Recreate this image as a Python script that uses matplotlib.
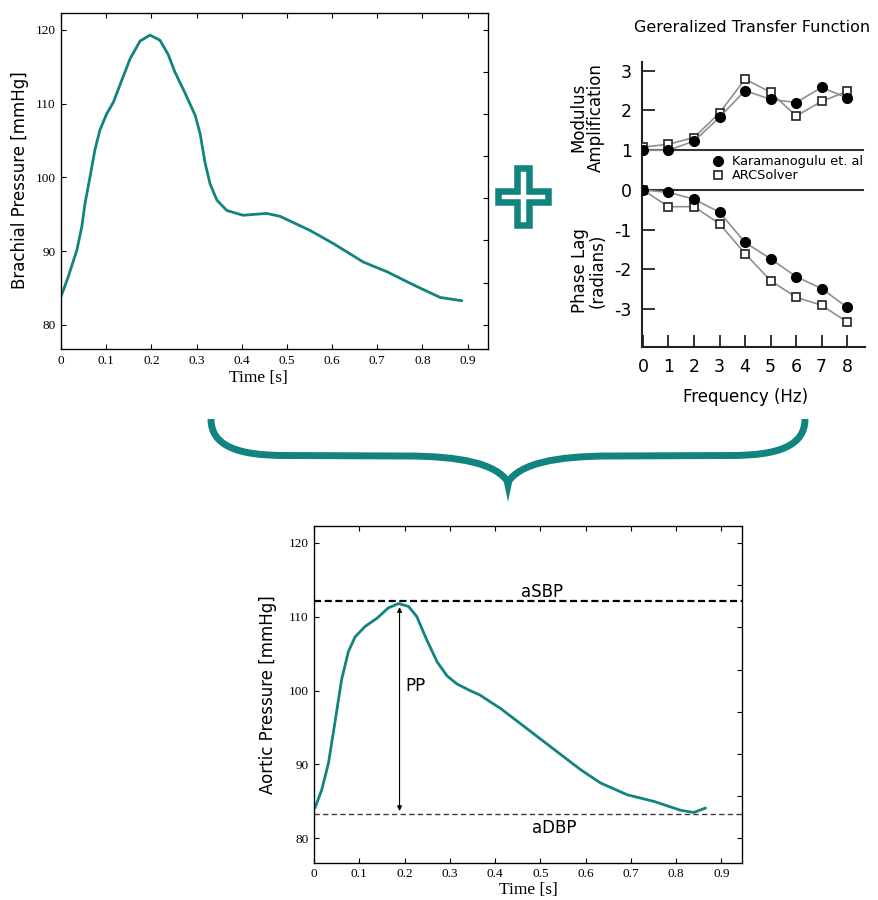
import matplotlib
matplotlib.use('Agg')
import matplotlib.pyplot as plt
import numpy as np
from matplotlib.path import Path
from matplotlib.patches import PathPatch, Polygon
from matplotlib.lines import Line2D

W, H = 879, 900
teal = '#11847f'

# brachial pressure waveform
t_brachial = [0.000, 0.016, 0.035, 0.046, 0.053, 0.064, 0.075, 0.086, 0.101, 0.116,
              0.134, 0.153, 0.175, 0.197, 0.219, 0.237, 0.252, 0.274, 0.297, 0.308,
              0.319, 0.330, 0.345, 0.367, 0.403, 0.455, 0.485, 0.551, 0.603, 0.669,
              0.721, 0.780, 0.839, 0.887]
p_brachial = [83.8, 86.5, 90.1, 93.3, 96.4, 100.0, 103.7, 106.4, 108.6, 110.2,
              113.1, 116.1, 118.5, 119.3, 118.6, 116.7, 114.3, 111.5, 108.4, 105.9,
              101.9, 99.1, 96.9, 95.5, 94.85, 95.1, 94.7, 92.8, 91.0, 88.5,
              87.2, 85.4, 83.7, 83.25]

# reconstructed aortic waveform
t_aortic = [0.002, 0.017, 0.032, 0.046, 0.061, 0.076, 0.091, 0.113, 0.139, 0.164,
            0.187, 0.209, 0.227, 0.249, 0.272, 0.294, 0.316, 0.345, 0.367, 0.389,
            0.412, 0.493, 0.589, 0.633, 0.692, 0.751, 0.810, 0.839, 0.865]
p_aortic = [84.1, 86.55, 90.2, 95.6, 101.5, 105.3, 107.3, 108.7, 109.8, 111.2,
            111.8, 111.4, 110.05, 106.9, 103.9, 102.0, 100.9, 100.0, 99.4, 98.5,
            97.6, 93.8, 89.3, 87.5, 85.9, 85.0, 83.8, 83.5, 84.1]
asbp = 112.1
adbp = 83.25

# generalized transfer function
freq = [0, 1, 2, 3, 4, 5, 6, 7, 8]
mod_karamanoglu = [1.0, 1.0, 1.23, 1.83, 2.5, 2.28, 2.2, 2.58, 2.32]
mod_arcsolver = [1.08, 1.15, 1.32, 1.94, 2.79, 2.46, 1.86, 2.23, 2.48]
phase_karamanoglu = [0.0, -0.06, -0.23, -0.56, -1.32, -1.73, -2.18, -2.48, -2.95]
phase_arcsolver = [0.0, -0.42, -0.42, -0.85, -1.6, -2.28, -2.7, -2.9, -3.32]

time_ticks = [0, 0.1, 0.2, 0.3, 0.4, 0.5, 0.6, 0.7, 0.8, 0.9]
time_labels = ['0', '0.1', '0.2', '0.3', '0.4', '0.5', '0.6', '0.7', '0.8', '0.9']
pressure_ticks = [80, 90, 100, 110, 120]


def px(x, y):
    return x / W, 1 - y / H


def box(left, top, right, bottom):
    return [left / W, 1 - bottom / H, (right - left) / W, (bottom - top) / H]


def pressure_axes(ax, t, p):
    ax.plot(t, p, color=teal, lw=2.0, solid_capstyle='round', solid_joinstyle='round',
            zorder=3)
    ax.set_xlim(0, 0.945)
    ax.set_ylim(76.7, 122.3)
    ax.set_xticks(time_ticks)
    ax.set_xticklabels(time_labels)
    ax.set_yticks(pressure_ticks)
    ax.tick_params(direction='in', top=True, right=False, length=3.5, width=0.8,
                   labelsize=9.5, pad=4, labelfontfamily='Liberation Serif')
    for s in ax.spines.values():
        s.set_linewidth(0.9)
    tw = ax.twinx()
    tw.set_ylim(76.7, 122.3)
    tw.set_yticks(np.linspace(80, 120, 8))
    tw.tick_params(direction='in', length=3.5, width=0.8, labelright=False)
    return ax


fig = plt.figure(figsize=(W / 100, H / 100), dpi=100)

# brachial panel
ax1 = fig.add_axes(box(61, 13, 488, 349))
pressure_axes(ax1, t_brachial, p_brachial)
fig.text(*px(20, 180), 'Brachial Pressure [mmHg]', rotation=90, ha='center', va='center',
         fontsize=12, family='DejaVu Sans')
fig.text(*px(258, 378), 'Time [s]', ha='center', va='center', fontsize=12.5,
         family='Liberation Serif')

# transfer function panel
ax2 = fig.add_axes(box(641.7, 62, 865, 347))
ax2.plot(freq, mod_arcsolver, color='#8f8f8f', lw=1.2, marker='s', ms=6, mfc='white',
         mec='#222222', mew=1.2, zorder=3)
ax2.plot(freq, phase_arcsolver, color='#8f8f8f', lw=1.2, marker='s', ms=6, mfc='white',
         mec='#222222', mew=1.2, zorder=3)
ax2.plot(freq, mod_karamanoglu, color='#8f8f8f', lw=1.2, marker='o', ms=7, mfc='black',
         mec='black', zorder=4)
ax2.plot(freq, phase_karamanoglu, color='#8f8f8f', lw=1.2, marker='o', ms=7, mfc='black',
         mec='black', zorder=4)
ax2.axhline(1, xmax=0.99, color='#333333', lw=1.5, zorder=2)
ax2.axhline(0, xmax=0.99, color='#333333', lw=1.5, zorder=2)
ax2.set_xlim(-0.05, 8.7)
ax2.set_ylim(-3.95, 3.22)
ax2.set_xticks(freq)
ax2.set_xticklabels([str(f) for f in freq])
ax2.set_yticks([3, 2, 1, 0, -1, -2, -3])
ax2.set_yticklabels(['3', '2', '1', '0', '-1', '-2', '-3'])
ax2.spines[['top', 'right']].set_visible(False)
for s in ('left', 'bottom'):
    ax2.spines[s].set_linewidth(1.5)
    ax2.spines[s].set_color('#222222')
ax2.tick_params(direction='in', length=9, width=1.3, color='#222222', labelsize=12.5)
ax2.tick_params(axis='x', pad=8)
ax2.tick_params(axis='y', pad=7)
handles = [Line2D([], [], ls='none', marker='o', ms=7, mfc='black', mec='black'),
           Line2D([], [], ls='none', marker='s', ms=6, mfc='white', mec='#222222', mew=1.2)]
ax2.legend(handles, ['Karamanogulu et. al', 'ARCSolver'], loc='upper left',
           bbox_to_anchor=(0.3126, 0.672), frameon=False, fontsize=9.3, borderpad=0,
           borderaxespad=0, handlelength=1, handletextpad=0.55, labelspacing=0.05)
fig.text(*px(752, 27), 'Gereralized Transfer Function', ha='center', va='center', fontsize=11.5)
fig.text(*px(587, 117.5), 'Modulus\nAmplification', rotation=90, ha='center', va='center',
         fontsize=12, linespacing=1.0, multialignment='center')
fig.text(*px(589, 271), 'Phase Lag\n(radians)', rotation=90, ha='center', va='center',
         fontsize=12, linespacing=1.0, multialignment='center')
fig.text(*px(746, 397), 'Frequency (Hz)', ha='center', va='center', fontsize=12)

# plus sign between the two top panels
cx, cy, a, b, w, h = 523, 196.5, 25, 28.25, 6.5, 5.5
cross = [(cx - w, cy - b), (cx + w, cy - b), (cx + w, cy - h), (cx + a, cy - h),
         (cx + a, cy + h), (cx + w, cy + h), (cx + w, cy + b), (cx - w, cy + b),
         (cx - w, cy + h), (cx - a, cy + h), (cx - a, cy - h), (cx - w, cy - h)]
fig.add_artist(Polygon([px(x, y) for x, y in cross], closed=True, facecolor='white',
                       edgecolor=teal, lw=4.7, joinstyle='miter', transform=fig.transFigure))

# curly brace under the top row
left_half = [(211, 419), (211, 446), (238, 455.5), (285, 455.5), (405, 456),
             (462, 456), (496, 464), (508, 482)]
codes = [Path.MOVETO, Path.CURVE4, Path.CURVE4, Path.CURVE4, Path.LINETO,
         Path.CURVE4, Path.CURVE4, Path.CURVE4]
for half in (left_half, [(1016 - x, y) for x, y in left_half]):
    brace = Path([px(x, y) for x, y in half], codes)
    fig.add_artist(PathPatch(brace, facecolor='none', edgecolor=teal, lw=5.0,
                             capstyle='butt', transform=fig.transFigure))
fig.add_artist(Polygon([px(503, 478), px(513, 478), px(508, 502)], closed=True,
                       facecolor=teal, edgecolor='none', transform=fig.transFigure))

# aortic panel
ax3 = fig.add_axes(box(314, 526, 741.7, 862.7))
pressure_axes(ax3, t_aortic, p_aortic)
ax3.axhline(asbp, color='black', lw=1.6, ls=(0, (3.2, 1.6)), zorder=2)
ax3.axhline(adbp, color='#3a3a3a', lw=1.0, ls=(0, (3.8, 2.4)), zorder=2)
ax3.annotate('', xy=(0.189, 111.3), xytext=(0.189, 83.7),
             arrowprops=dict(arrowstyle='<|-|>', color='black', lw=0.8, mutation_scale=7,
                             shrinkA=0, shrinkB=0))
ax3.text(0.504, 113.35, 'aSBP', ha='center', va='center', fontsize=12)
ax3.text(0.53, 81.35, 'aDBP', ha='center', va='center', fontsize=12)
ax3.text(0.2235, 100.57, 'PP', ha='center', va='center', fontsize=12)
fig.text(*px(268.3, 695), 'Aortic Pressure [mmHg]', rotation=90, ha='center', va='center',
         fontsize=12, family='DejaVu Sans')
fig.text(*px(528.3, 890), 'Time [s]', ha='center', va='center', fontsize=12.5,
         family='Liberation Serif')

fig.savefig('out.png', dpi=100)
